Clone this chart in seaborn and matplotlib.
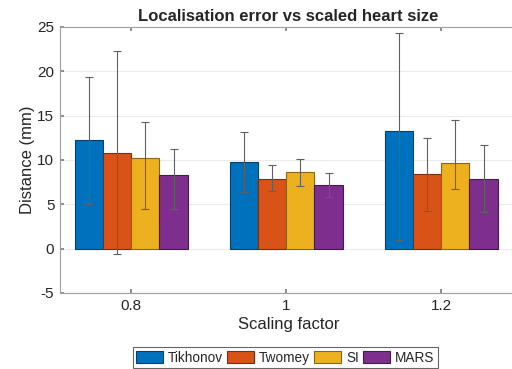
import numpy as np
import pandas as pd
import seaborn as sns
import matplotlib
matplotlib.use("Agg")
import matplotlib.pyplot as plt
from matplotlib.patches import Patch

# ---- data ----
factors = ["0.8", "1", "1.2"]
methods = ["Tikhonov", "Twomey", "SI", "MARS"]
tikhonov = [12.2, 9.8, 13.3]
twomey = [10.8, 7.9, 8.4]
si = [10.2, 8.6, 9.7]
mars = [8.3, 7.2, 7.9]
# error bar ends (lower, upper)
tikhonov_lo = [5.0, 6.4, 1.0]
tikhonov_hi = [19.4, 13.2, 24.3]
twomey_lo = [-0.6, 6.5, 4.3]
twomey_hi = [22.3, 9.4, 12.5]
si_lo = [4.5, 7.1, 6.7]
si_hi = [14.3, 10.1, 14.5]
mars_lo = [4.5, 5.8, 4.1]
mars_hi = [11.2, 8.5, 11.7]

colors = ["#0072BD", "#D95319", "#EDB120", "#7E2F8E"]
edges = ["#00406b", "#7a2e0d", "#8a6612", "#45184e"]

sns.set_theme(style="white")
plt.rcParams["font.family"] = ["Liberation Sans", "DejaVu Sans"]
plt.rcParams["axes.unicode_minus"] = False

rows = []
vals = [tikhonov, twomey, si, mars]
los = [tikhonov_lo, twomey_lo, si_lo, mars_lo]
his = [tikhonov_hi, twomey_hi, si_hi, mars_hi]
for m, v, lo, hi in zip(methods, vals, los, his):
    for f, a, l, h in zip(factors, v, lo, hi):
        rows.append({"factor": f, "method": m, "value": a, "lo": l, "hi": h})
df = pd.DataFrame(rows)

fig = plt.figure(figsize=(5.12, 3.69), dpi=100)
ax = fig.add_axes([0.117, 0.206, 0.893, 0.721])

sns.barplot(data=df, x="factor", y="value", hue="method", order=factors,
            hue_order=methods, palette=colors, width=0.73, errorbar=None,
            legend=False, ax=ax, saturation=1)

for i, m in enumerate(methods):
    cont = ax.containers[i]
    sub = df[df.method == m].set_index("factor").loc[factors]
    for p, (_, r) in zip(cont.patches, sub.iterrows()):
        p.set_edgecolor(edges[i])
        p.set_linewidth(0.8)
        xc = p.get_x() + p.get_width() / 2
        ax.errorbar([xc], [r.value], yerr=[[r.value - r.lo], [r.hi - r.value]],
                    fmt="none", ecolor="#606060", elinewidth=0.8,
                    capsize=3, capthick=0.8, zorder=5)

ax.set_xlim(-0.46, 2.49)
ax.set_ylim(-5, 25)
ax.set_yticks(np.arange(-5, 26, 5))
ax.yaxis.grid(True, color="#ebebeb", linewidth=0.8)
ax.set_axisbelow(True)
for s in ax.spines.values():
    s.set_color("#a0a0a0")
    s.set_linewidth(0.8)
ax.tick_params(axis="both", which="both", direction="in", length=3,
               color="#808080", labelsize=11, labelcolor="#262626",
               top=True, right=True, bottom=True, left=True, pad=4)
ax.set_xlabel("Scaling factor", fontsize=12, color="#262626", labelpad=3)
ax.set_ylabel("Distance (mm)", fontsize=12, color="#262626", labelpad=2)
ax.set_title("Localisation error vs scaled heart size", fontsize=12,
             fontweight="bold", pad=4)

handles = [Patch(facecolor=c, edgecolor=e, linewidth=0.8) for c, e in zip(colors, edges)]
leg = fig.legend(handles, methods, loc="lower center", bbox_to_anchor=(0.557, -0.005),
                 ncol=4, fontsize=9.8, frameon=True, fancybox=False,
                 handlelength=2.0, handleheight=0.9, handletextpad=0.35,
                 columnspacing=0.3, borderpad=0.25, borderaxespad=0.2)
leg.get_frame().set_edgecolor("#404040")
leg.get_frame().set_linewidth(0.8)

fig.savefig("out.png", dpi=100)
